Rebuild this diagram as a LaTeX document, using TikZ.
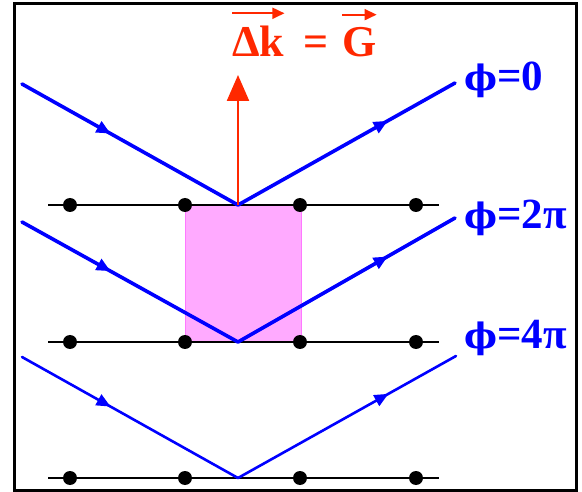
\documentclass[tikz,border=0pt]{standalone}
\usepackage{fontspec}
\setmainfont{Liberation Serif}
\newfontfamily\phifont{DejaVu Serif}
\usetikzlibrary{arrows.meta,decorations.markings}
\definecolor{rayblue}{RGB}{0,0,255}
\definecolor{vecred}{RGB}{255,40,0}
\definecolor{cellpink}{RGB}{255,170,255}
\definecolor{celledge}{RGB}{255,120,255}
\newcommand{\myphi}{{\phifont\fontsize{35}{35}\selectfont\bfseries ϕ}}
\begin{document}
\begin{tikzpicture}[x=1pt,y=-1pt,
  atom/.style={circle,fill=black,inner sep=0pt,minimum size=14pt},
  plane/.style={line width=2.3pt,black},
  rayin/.style={rayblue,line width=3.6pt,line cap=round,
    decoration={markings,mark=at position 0.41 with {\arrow{Triangle[length=14pt,width=12pt]}}},
    postaction={decorate}},
  rayout/.style={rayblue,line width=3.6pt,line cap=round,
    decoration={markings,mark=at position 0.69 with {\arrow{Triangle[length=14pt,width=12pt]}}},
    postaction={decorate}},
  thin/.style={line width=2.6pt},
  phlabel/.style={anchor=west,inner sep=0pt,text=rayblue,font=\fontsize{43}{43}\selectfont\bfseries},
  vlabel/.style={anchor=base west,inner sep=0pt,text=vecred,font=\fontsize{44}{44}\selectfont\bfseries},
  overarrow/.style={vecred,line width=1.8pt,-{Triangle[length=12pt,width=11pt]}}
]
\useasboundingbox (0,0) rectangle (582,492);
\draw[line width=3pt] (14.5,4) rectangle (576,490.5);

% unit cell
\fill[cellpink] (185,205) rectangle (301,342);
\draw[celledge,line width=1pt] (185,205) -- (185,342) (301,205) -- (301,342);

% lattice planes
\foreach \r/\y in {1/205,2/342,3/478}{
  \coordinate (L\r) at (48,\y);
  \coordinate (R\r) at (439,\y);
  \draw[plane] (L\r) -- (R\r);
  \foreach \c/\x in {1/70,2/185,3/300,4/416}{
    \node[atom] (d\r\c) at (\x,\y) {};
  }
}

% rays
\coordinate (a1) at (22,84);  \coordinate (p1) at (238,205); \coordinate (b1) at (455,83);
\coordinate (a2) at (22,222); \coordinate (p2) at (238,342); \coordinate (b2) at (455,218);
\coordinate (a3) at (22,357); \coordinate (p3) at (238,478); \coordinate (b3) at (456,356);
\draw[rayin] (a1) -- (p1);
\draw[rayout] (p1) -- (b1);
\draw[rayin] (a2) -- (p2);
\draw[rayout] (p2) -- (b2);
\draw[rayin,thin] (a3) -- (p3);
\draw[rayout,thin] (p3) -- (b3);

% scattering vector
\coordinate (top) at (238,75);
\draw[vecred,line width=2.4pt,-{Triangle[length=26pt,width=22pt]}] (p1) -- (top);

% labels
\node[phlabel] (ph0) at (464,80) {\myphi=0};
\node[phlabel] (ph2) at (464,218) {\myphi=2π};
\node[phlabel] (ph4) at (464,338) {\myphi=4π};

\node[vlabel] (dk) at (232,57) {Δk};
\node[vlabel] (eq) at (303,57) {=};
\node[vlabel] (gg) at (342,57) {G};
\draw[overarrow] ([yshift=13pt]dk.north west) -- ([yshift=13pt]dk.north east);
\draw[overarrow] ([yshift=13pt]gg.north west) -- ([yshift=13pt]gg.north east);
\end{tikzpicture}
\end{document}
